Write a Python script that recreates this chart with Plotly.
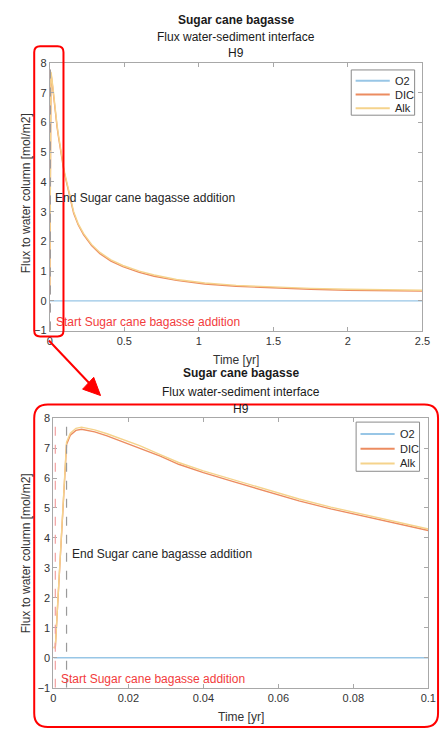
import plotly.graph_objects as go

# ---------------- data ----------------
time = [0, 0.0005, 0.001, 0.0015, 0.002, 0.0025, 0.003, 0.0035, 0.0045, 0.006,
        0.0075, 0.009, 0.011, 0.0143, 0.018, 0.023, 0.0285, 0.0334, 0.04, 0.048,
        0.056, 0.0655, 0.074, 0.0828, 0.091, 0.1, 0.12, 0.138, 0.16, 0.19,
        0.226, 0.28, 0.336, 0.41, 0.49, 0.6, 0.7, 0.85, 1.04, 1.25,
        1.5, 1.75, 2.0, 2.25, 2.5]
o2 = [0, 0, 0, 0, 0, 0, 0, 0, 0, 0,
      0, 0, 0, 0, 0, 0, 0, 0, 0, 0,
      0, 0, 0, 0, 0, 0, 0, 0, 0, 0,
      0, 0, 0, 0, 0, 0, 0, 0, 0, 0,
      0, 0, 0, 0, 0]
dic = [0.34, 0.34, 1.48, 2.66, 3.85, 5.0, 6.13, 7.12, 7.43, 7.59,
       7.63, 7.60, 7.54, 7.41, 7.23, 7.01, 6.73, 6.46, 6.18, 5.88,
       5.58, 5.24, 4.97, 4.72, 4.48, 4.25, 3.78, 3.37, 2.95, 2.56,
       2.23, 1.86, 1.59, 1.34, 1.15, 0.96, 0.83, 0.69, 0.57, 0.49,
       0.43, 0.39, 0.36, 0.34, 0.33]
alk = [0.34, 0.34, 1.5, 2.7, 3.9, 5.05, 6.2, 7.2, 7.5, 7.66,
       7.70, 7.67, 7.61, 7.48, 7.30, 7.08, 6.78, 6.52, 6.24, 5.94,
       5.64, 5.30, 5.03, 4.78, 4.54, 4.30, 3.83, 3.42, 3.0, 2.6,
       2.27, 1.9, 1.63, 1.38, 1.19, 1.0, 0.87, 0.72, 0.60, 0.52,
       0.46, 0.42, 0.39, 0.37, 0.36]

series_names = ["O2", "DIC", "Alk"]
series_colors = ["#98c6e6", "#ec8c60", "#f5d38c"]

start_addition = 0.0005
end_addition = 0.0035
start_label = "Start Sugar cane bagasse addition"
end_label = "End Sugar cane bagasse addition"
start_label_y = -0.72
end_label_y = 3.47

title1 = "Sugar cane bagasse"
title2 = "Flux water-sediment interface"
title3 = "H9"
xlabel = "Time [yr]"
ylabel = "Flux to water column [mol/m2]"

top_xrange = [0, 2.5]
top_xticks = [0, 0.5, 1, 1.5, 2, 2.5]
bot_xrange = [0, 0.1]
bot_xticks = [0, 0.02, 0.04, 0.06, 0.08, 0.1]
yrange = [-1, 8]
yticks = [-1, 0, 1, 2, 3, 4, 5, 6, 7, 8]

# ---------------- geometry helpers ----------------
W, H = 448, 735
FONT = "Liberation Sans, Arial, Helvetica, sans-serif"


def px(x):
    return x / W


def py(y):
    return 1 - y / H


fig = go.Figure()

series = [o2, dic, alk]
for ax_x, ax_y in [("x", "y"), ("x2", "y2")]:
    for name, col, vals in zip(series_names, series_colors, series):
        fig.add_trace(go.Scatter(
            x=time, y=vals, mode="lines", name=name,
            line=dict(color=col, width=1.4),
            xaxis=ax_x, yaxis=ax_y, showlegend=False))

axis_common = dict(showgrid=False, zeroline=False, showline=True, mirror="ticks",
                   linecolor="#a8a8a8", linewidth=1, ticks="inside", ticklen=4,
                   tickcolor="#a8a8a8",
                   tickfont=dict(family=FONT, size=11, color="#333333"))

fig.update_layout(
    width=W, height=H,
    margin=dict(l=0, r=0, t=0, b=0),
    paper_bgcolor="white", plot_bgcolor="white",
    showlegend=False,
    xaxis=dict(domain=[px(48), px(430)], anchor="y", range=top_xrange,
               tickvals=top_xticks, **axis_common),
    yaxis=dict(domain=[py(330), py(58)], anchor="x", range=yrange,
               tickvals=yticks, **axis_common),
    xaxis2=dict(domain=[px(51.7), px(436)], anchor="y2", range=bot_xrange,
                tickvals=bot_xticks, **axis_common),
    yaxis2=dict(domain=[py(693), py(419)], anchor="x2", range=yrange,
                tickvals=yticks, **axis_common),
)

# dashed vertical lines (start / end of addition)
for xr, yr in [("x", "y"), ("x2", "y2")]:
    fig.add_shape(type="line", xref=xr, yref=yr, x0=start_addition, x1=start_addition,
                  y0=yrange[0], y1=yrange[1],
                  line=dict(color="#f2a0a0", width=1.2, dash="dash"))
    fig.add_shape(type="line", xref=xr, yref=yr, x0=end_addition, x1=end_addition,
                  y0=yrange[0], y1=yrange[1],
                  line=dict(color="#9a9a9a", width=1.2, dash="dash"))
    fig.add_annotation(xref=xr, yref=yr, x=start_addition, y=start_label_y,
                       text=start_label, showarrow=False, xanchor="left",
                       yanchor="middle", xshift=4,
                       font=dict(family=FONT, size=12, color="#f23c3c"))
    fig.add_annotation(xref=xr, yref=yr, x=end_addition, y=end_label_y,
                       text=end_label, showarrow=False, xanchor="left",
                       yanchor="middle", xshift=3,
                       font=dict(family=FONT, size=12, color="#262626"))

# titles and axis labels
for cx, ys, xl_y, yl_x, yl_y in [(239, (14, 32, 48), 360, 23, 190),
                                 (244, (373, 392, 410), 723, 23, 556)]:
    for txt, yy, bold in zip([title1, title2, title3], ys, [True, False, False]):
        fig.add_annotation(xref="paper", yref="paper", x=px(cx), y=py(yy),
                           text=f"<b>{txt}</b>" if bold else txt, showarrow=False,
                           xanchor="center", yanchor="middle",
                           font=dict(family=FONT, size=12, color="#1a1a1a"))
    fig.add_annotation(xref="paper", yref="paper", x=px(cx), y=py(xl_y),
                       text=xlabel, showarrow=False, xanchor="center", yanchor="middle",
                       font=dict(family=FONT, size=12, color="#333333"))
    fig.add_annotation(xref="paper", yref="paper", x=px(yl_x), y=py(yl_y),
                       text=ylabel, showarrow=False, textangle=-90,
                       xanchor="center", yanchor="middle",
                       font=dict(family=FONT, size=12, color="#333333"))

# compact MATLAB-style legend boxes (box, line samples, labels)
for bx0, by0, bx1, by1, lx0, lx1, rows in [
        (357, 65, 422, 111, 361.5, 396.5, (76, 90, 104)),
        (362, 423, 427, 473, 366.5, 401.5, (435, 450, 465))]:
    fig.add_shape(type="rect", xref="paper", yref="paper",
                  x0=px(bx0), y0=py(by1), x1=px(bx1), y1=py(by0),
                  fillcolor="white", line=dict(color="#8a8a8a", width=1))
    for name, col, ry in zip(series_names, series_colors, rows):
        fig.add_shape(type="line", xref="paper", yref="paper",
                      x0=px(lx0), x1=px(lx1), y0=py(ry), y1=py(ry),
                      line=dict(color=col, width=2))
        fig.add_annotation(xref="paper", yref="paper", x=px(lx1 + 3), y=py(ry),
                           text=name, showarrow=False, xanchor="left", yanchor="middle",
                           font=dict(family=FONT, size=11, color="#262626"))


# red rounded rectangles and arrow (pixel geometry -> paper)
def rounded_rect(x0, y0, x1, y1, r):
    pts = [
        f"M {px(x0 + r)},{py(y0)}",
        f"L {px(x1 - r)},{py(y0)}",
        f"Q {px(x1)},{py(y0)} {px(x1)},{py(y0 + r)}",
        f"L {px(x1)},{py(y1 - r)}",
        f"Q {px(x1)},{py(y1)} {px(x1 - r)},{py(y1)}",
        f"L {px(x0 + r)},{py(y1)}",
        f"Q {px(x0)},{py(y1)} {px(x0)},{py(y1 - r)}",
        f"L {px(x0)},{py(y0 + r)}",
        f"Q {px(x0)},{py(y0)} {px(x0 + r)},{py(y0)}",
        "Z",
    ]
    return " ".join(pts)


fig.add_shape(type="path", xref="paper", yref="paper",
              path=rounded_rect(32, 41, 62, 336, 6),
              line=dict(color="#ff0000", width=2))
fig.add_shape(type="path", xref="paper", yref="paper",
              path=rounded_rect(32, 405, 446, 733, 14),
              line=dict(color="#ff0000", width=2))
fig.add_shape(type="line", xref="paper", yref="paper",
              x0=px(47), y0=py(340), x1=px(90), y1=py(385),
              line=dict(color="#ff0000", width=2))
fig.add_shape(type="path", xref="paper", yref="paper",
              path=f"M {px(100)},{py(396)} L {px(81.6)},{py(389.5)} L {px(93)},{py(377.5)} Z",
              fillcolor="#ff0000", line=dict(color="#ff0000", width=1))

fig.write_html(
    "out.html",
    config={"displayModeBar": False},
    post_script=(
        "document.documentElement.style.margin='0';"
        "document.documentElement.style.overflow='hidden';"
        "document.body.style.margin='0';document.body.style.overflow='hidden';"
        "var d=document.getElementById('{plot_id}');"
        "d.style.position='fixed';d.style.left='0px';d.style.top='0px';"
    ),
)
